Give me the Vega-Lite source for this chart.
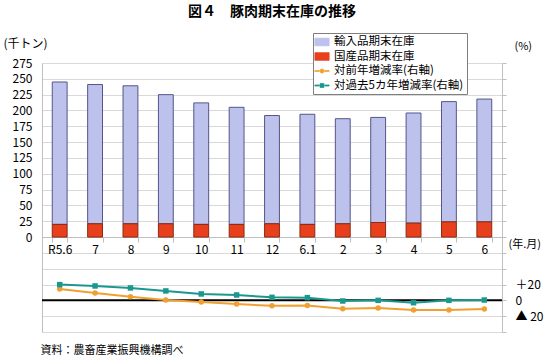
{
  "$schema": "https://vega.github.io/schema/vega-lite/v6.json",
  "width": 460,
  "height": 269,
  "autosize": "none",
  "padding": {"left": 42, "top": 63, "right": 48, "bottom": 24},
  "title": {"text": "図４　豚肉期末在庫の推移", "fontSize": 14, "fontWeight": "bold", "font": "Noto Sans CJK JP", "anchor": "middle", "frame": "group", "offset": 14, "color": "#000000"},
  "config": {
    "view": {"stroke": null},
    "font": "Noto Sans CJK JP",
    "axis": {"labelFont": "Noto Sans CJK JP", "titleFont": "Noto Sans CJK JP", "labelColor": "#000000", "titleColor": "#000000", "titleFontWeight": "normal", "labelFontSize": 12, "titleFontSize": 12}
  },
  "datasets": {
    "stock": [
      {"month": "R5.6", "series": "輸入品期末在庫", "stock": 225}, {"month": "R5.6", "series": "国産品期末在庫", "stock": 20},
      {"month": "7", "series": "輸入品期末在庫", "stock": 220}, {"month": "7", "series": "国産品期末在庫", "stock": 21},
      {"month": "8", "series": "輸入品期末在庫", "stock": 218}, {"month": "8", "series": "国産品期末在庫", "stock": 21},
      {"month": "9", "series": "輸入品期末在庫", "stock": 204}, {"month": "9", "series": "国産品期末在庫", "stock": 21},
      {"month": "10", "series": "輸入品期末在庫", "stock": 192}, {"month": "10", "series": "国産品期末在庫", "stock": 20},
      {"month": "11", "series": "輸入品期末在庫", "stock": 185}, {"month": "11", "series": "国産品期末在庫", "stock": 20},
      {"month": "12", "series": "輸入品期末在庫", "stock": 171}, {"month": "12", "series": "国産品期末在庫", "stock": 21},
      {"month": "6.1", "series": "輸入品期末在庫", "stock": 174}, {"month": "6.1", "series": "国産品期末在庫", "stock": 20},
      {"month": "2", "series": "輸入品期末在庫", "stock": 166}, {"month": "2", "series": "国産品期末在庫", "stock": 21},
      {"month": "3", "series": "輸入品期末在庫", "stock": 166}, {"month": "3", "series": "国産品期末在庫", "stock": 23},
      {"month": "4", "series": "輸入品期末在庫", "stock": 174}, {"month": "4", "series": "国産品期末在庫", "stock": 22},
      {"month": "5", "series": "輸入品期末在庫", "stock": 190}, {"month": "5", "series": "国産品期末在庫", "stock": 24},
      {"month": "6", "series": "輸入品期末在庫", "stock": 194}, {"month": "6", "series": "国産品期末在庫", "stock": 24}
    ],
    "rates": [
      {"month": "R5.6", "series": "対前年増減率(右軸)", "rate": 14.4}, {"month": "R5.6", "series": "対過去5カ年増減率(右軸)", "rate": 19.9},
      {"month": "7", "series": "対前年増減率(右軸)", "rate": 9.3}, {"month": "7", "series": "対過去5カ年増減率(右軸)", "rate": 18.2},
      {"month": "8", "series": "対前年増減率(右軸)", "rate": 4.7}, {"month": "8", "series": "対過去5カ年増減率(右軸)", "rate": 15.7},
      {"month": "9", "series": "対前年増減率(右軸)", "rate": 0.4}, {"month": "9", "series": "対過去5カ年増減率(右軸)", "rate": 11.9},
      {"month": "10", "series": "対前年増減率(右軸)", "rate": -2.1}, {"month": "10", "series": "対過去5カ年増減率(右軸)", "rate": 8.1},
      {"month": "11", "series": "対前年増減率(右軸)", "rate": -4.7}, {"month": "11", "series": "対過去5カ年増減率(右軸)", "rate": 6.8},
      {"month": "12", "series": "対前年増減率(右軸)", "rate": -6.8}, {"month": "12", "series": "対過去5カ年増減率(右軸)", "rate": 3.8},
      {"month": "6.1", "series": "対前年増減率(右軸)", "rate": -6.4}, {"month": "6.1", "series": "対過去5カ年増減率(右軸)", "rate": 3.4},
      {"month": "2", "series": "対前年増減率(右軸)", "rate": -10.6}, {"month": "2", "series": "対過去5カ年増減率(右軸)", "rate": -0.8},
      {"month": "3", "series": "対前年増減率(右軸)", "rate": -9.7}, {"month": "3", "series": "対過去5カ年増減率(右軸)", "rate": 0.0},
      {"month": "4", "series": "対前年増減率(右軸)", "rate": -12.3}, {"month": "4", "series": "対過去5カ年増減率(右軸)", "rate": -3.0},
      {"month": "5", "series": "対前年増減率(右軸)", "rate": -12.3}, {"month": "5", "series": "対過去5カ年増減率(右軸)", "rate": 0.0},
      {"month": "6", "series": "対前年増減率(右軸)", "rate": -11.0}, {"month": "6", "series": "対過去5カ年増減率(右軸)", "rate": 0.4}
    ],
    "zero": [{"v": 0}]
  },
  "layer": [
    {
      "data": {"name": "stock"},
      "mark": {"type": "bar", "strokeWidth": 1},
      "encoding": {
        "x": {"field": "month", "type": "nominal", "sort": null,
          "scale": {"type": "band", "paddingInner": 0.58, "paddingOuter": 0.29},
          "axis": {"orient": "bottom", "offset": -95, "labelAngle": 0, "labelPadding": 2, "tickBand": "extent", "tickSize": 5, "tickColor": "#bfbfbf", "domainColor": "#bfbfbf",
            "title": "(年.月)", "titleX": 466, "titleY": 7, "titleAlign": "left", "titleBaseline": "middle", "titleFontSize": 11}},
        "y": {"field": "stock", "type": "quantitative", "stack": "zero",
          "scale": {"domain": [-150, 275], "nice": false, "zero": false},
          "axis": {"orient": "left", "values": [-150, -125, -100, -75, -50, -25, 0, 25, 50, 75, 100, 125, 150, 175, 200, 225, 250, 275],
            "labelExpr": "datum.value >= 0 ? datum.label : ''", "grid": true, "gridColor": "#d9d9d9", "ticks": false, "domainColor": "#bfbfbf", "labelPadding": 10,
            "title": "(千トン)", "titleAngle": 0, "titleX": -39, "titleY": -20, "titleAlign": "left", "titleBaseline": "middle", "titleFontSize": 12}},
        "order": {"field": "series", "sort": "ascending"},
        "color": {"field": "series", "type": "nominal",
          "scale": {"domain": ["輸入品期末在庫", "国産品期末在庫", "対前年増減率(右軸)", "対過去5カ年増減率(右軸)"], "range": ["#bcc2ec", "#e8401c", "#f0a030", "#1a9890"]},
          "legend": {"orient": "none", "legendX": 271, "legendY": -30, "title": null, "padding": 3, "strokeColor": "#7f7f7f", "fillColor": "#ffffff",
            "labelFont": "Noto Sans CJK JP", "labelFontSize": 11.5, "labelColor": "#000000", "rowPadding": 2.5, "symbolSize": 121, "labelOffset": 6, "labelLimit": 300,
            "encode": {"symbols": {"update": {
              "shape": {"signal": "datum.value == '輸入品期末在庫' || datum.value == '国産品期末在庫' ? 'M-1.3,-0.7H1.3V0.7H-1.3Z' : (datum.value == '対前年増減率(右軸)' ? 'M-1.3,-0.1H-0.5V0.1H-1.3Z M0.5,-0.1H1.3V0.1H0.5Z M-0.38,0A0.38,0.38 0 1,0 0.38,0A0.38,0.38 0 1,0 -0.38,0Z' : 'M-1.3,-0.1H-0.5V0.1H-1.3Z M0.5,-0.1H1.3V0.1H0.5Z M-0.36,-0.36H0.36V0.36H-0.36Z')"},
              "fill": {"signal": "scale('color', datum.value)"},
              "stroke": {"signal": "datum.value == '輸入品期末在庫' ? '#55558a' : (datum.value == '国産品期末在庫' ? '#8a2a10' : scale('color', datum.value))"},
              "strokeWidth": {"value": 0.7},
              "opacity": {"value": 1},
              "fillOpacity": {"value": 1}
            }}}}
        },
        "stroke": {"field": "series", "type": "nominal", "scale": {"domain": ["輸入品期末在庫", "国産品期末在庫"], "range": ["#55558a", "#8a2a10"]}, "legend": null}
      }
    },
    {
      "data": {"name": "zero"},
      "mark": {"type": "rule", "color": "#000000", "strokeWidth": 2},
      "encoding": {
        "y": {"field": "v", "type": "quantitative", "scale": {"domain": [-40, 300], "nice": false, "zero": false}, "axis": null}
      }
    },
    {
      "data": {"name": "rates"},
      "mark": {"type": "line", "strokeWidth": 2},
      "encoding": {
        "x": {"field": "month", "type": "nominal", "sort": null, "scale": {"type": "point", "padding": 0.5},
          "axis": {"orient": "bottom", "labels": false, "ticks": false, "domain": false, "grid": false,
            "title": "資料：農畜産業振興機構調べ", "titleX": -2, "titleY": 18, "titleAlign": "left", "titleBaseline": "middle", "titleFontSize": 11}},
        "y": {"field": "rate", "type": "quantitative", "scale": {"domain": [-40, 300], "nice": false, "zero": false},
          "axis": {"orient": "right", "values": [-40, -20, 0, 20, 40, 60, 80, 100, 120, 140, 160, 180, 200, 220, 240, 260, 280, 300],
            "labelExpr": "datum.value == 20 ? '＋20' : (datum.value == 0 ? '0' : (datum.value == -20 ? '▲ 20' : ''))",
            "grid": false, "ticks": true, "tickSize": 4, "tickColor": "#bfbfbf", "domainColor": "#bfbfbf", "labelPadding": 9, "labelFontSize": 12,
            "title": "(%)", "titleAngle": 0, "titleX": 12, "titleY": -17, "titleAlign": "left", "titleBaseline": "middle", "titleFontSize": 11}},
        "color": {"field": "series", "type": "nominal"}
      }
    },
    {
      "data": {"name": "rates"},
      "mark": {"type": "point", "filled": true, "size": 30, "opacity": 1},
      "encoding": {
        "x": {"field": "month", "type": "nominal", "sort": null, "scale": {"type": "point", "padding": 0.5}, "axis": null},
        "y": {"field": "rate", "type": "quantitative", "scale": {"domain": [-40, 300], "nice": false, "zero": false}, "axis": null},
        "color": {"field": "series", "type": "nominal"},
        "shape": {"field": "series", "type": "nominal", "scale": {"domain": ["対前年増減率(右軸)", "対過去5カ年増減率(右軸)"], "range": ["circle", "square"]}, "legend": null}
      }
    }
  ],
  "resolve": {"scale": {"y": "independent", "x": "independent"}, "axis": {"x": "independent", "y": "independent"}}
}
